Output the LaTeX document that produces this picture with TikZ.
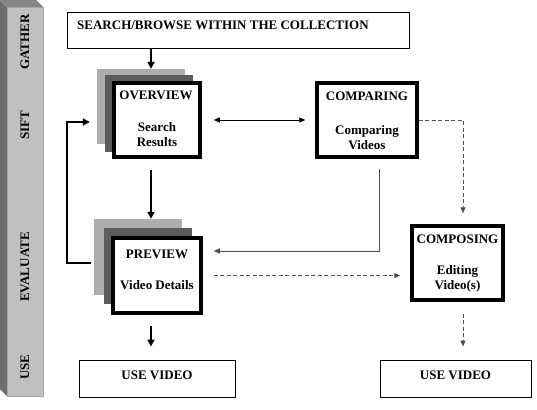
\documentclass[tikz,border=0pt]{standalone}
\usepackage{fontspec}
\setmainfont{Liberation Serif}
\usetikzlibrary{arrows.meta}
\definecolor{shlight}{HTML}{ADADAD}
\definecolor{shdark}{HTML}{5C5C5C}
\definecolor{barface}{HTML}{C0C0C0}
\definecolor{barside}{HTML}{6E6E6E}
\definecolor{bartop}{HTML}{858585}
\definecolor{lngray}{HTML}{505050}
\begin{document}
\begin{tikzpicture}[x=1pt,y=-1pt,
  txt/.style={font=\fontsize{13}{15}\selectfont\bfseries, inner sep=0, anchor=base},
  sidetxt/.style={font=\fontsize{13}{15}\selectfont\bfseries, inner sep=0, rotate=90},
  bigbox/.style={draw, line width=3.5pt, fill=white, inner sep=0},
  plainbox/.style={draw, line width=0.9pt, fill=white, inner sep=0},
  backsh/.style={fill=shlight, inner sep=0},
  midsh/.style={fill=shdark, inner sep=0},
  arr/.style={-{Triangle[length=7pt,width=7pt]}, line width=2pt},
  loopln/.style={line width=2pt},
  thinarr/.style={line width=0.9pt, -{Triangle[length=6pt,width=5pt]}},
  thinboth/.style={line width=0.9pt, {Triangle[length=6pt,width=5pt]}-{Triangle[length=6pt,width=5pt]}},
  dasharr/.style={draw=lngray, line width=0.9pt, dash pattern=on 4pt off 2.5pt, -{Triangle[length=6pt,width=5pt]}, lngray}
]
\useasboundingbox (0,0) rectangle (537,409);

% side bar
\fill[barside] (0,0) -- (7,7) -- (7,396) -- (0,389) -- cycle;
\fill[bartop] (0,0) -- (36,0) -- (43,7) -- (7,7) -- cycle;
\draw[fill=barface, draw=gray!70] (7,7) rectangle (43,396);
\node[sidetxt] (lgather) at (25,42) {GATHER};
\node[sidetxt] (lsift) at (25,125) {SIFT};
\node[sidetxt] (leval) at (25,267) {EVALUATE};
\node[sidetxt] (luse) at (25,367) {USE};

% top box
\node[plainbox, minimum width=342pt, minimum height=36pt] (top) at (238,30) {};
\node[txt, anchor=base west] (toptxt) at (77,29.5) {SEARCH/BROWSE WITHIN THE COLLECTION};

% overview stack
\node[backsh, minimum width=88pt, minimum height=75pt] (ovb) at (141,106.5) {};
\node[midsh, minimum width=88pt, minimum height=77pt] (ovm) at (149,113.5) {};
\node[bigbox, minimum width=86pt, minimum height=74pt] (ov) at (157,120) {};
\node[txt] (ovt) at (156,99.5) {OVERVIEW};
\node[txt] (ov1) at (157,131) {Search};
\node[txt] (ov2) at (157,146) {Results};

% preview stack
\node[backsh, minimum width=88pt, minimum height=76pt] (pvb) at (138,257) {};
\node[midsh, minimum width=88pt, minimum height=76pt] (pvm) at (148,266) {};
\node[bigbox, minimum width=88pt, minimum height=75pt] (pv) at (157,275.5) {};
\node[txt] (pvt) at (157,258) {PREVIEW};
\node[txt] (pv1) at (157,289.5) {Video Details};

% comparing
\node[bigbox, minimum width=100pt, minimum height=74pt] (cmp) at (367,120) {};
\node[txt] (cmpt) at (367,100) {COMPARING};
\node[txt] (cmp1) at (367,134) {Comparing};
\node[txt] (cmp2) at (367,149) {Videos};

% composing
\node[bigbox, minimum width=91pt, minimum height=74pt] (cps) at (457.5,263) {};
\node[txt] (cpst) at (457.5,243) {COMPOSING};
\node[txt] (cps1) at (457.5,274.5) {Editing};
\node[txt] (cps2) at (457.5,289.5) {Video(s)};

% use video boxes
\node[plainbox, minimum width=156pt, minimum height=37pt] (use1) at (157,378.5) {};
\node[txt] (use1t) at (157,379) {USE VIDEO};
\node[plainbox, minimum width=151pt, minimum height=37pt] (use2) at (455.5,378.5) {};
\node[txt] (use2t) at (455.5,379) {USE VIDEO};

% connectors
\draw[arr] ([xshift=-6pt]ov.north |- top.south) -- ([xshift=-6pt]ov.north |- ovb.north);
\draw[arr, shorten <=11pt] ([xshift=-6pt]ov.south) -- ([xshift=-6pt]pv.north |- pvb.north);
\draw[arr, shorten <=11pt, shorten >=13pt] ([xshift=-6pt]pv.south) -- ([xshift=-6pt]pv.south |- use1.north);
\draw[loopln, -{Triangle[length=7pt,width=7pt]}, shorten <=3pt, shorten >=7pt]
  ([yshift=-6pt]pvb.west) -- ++(-27,0) |- ([yshift=-15.5pt]ovb.west);
\draw[thinboth, shorten <=12pt, shorten >=10pt] (ov.east) -- (cmp.west);
\draw[dasharr, shorten >=11pt] (cmp.east) -| ([xshift=5.5pt]cps.north);
\draw[thinarr, draw=lngray, shorten >=11pt] ([xshift=12pt, yshift=-10pt]cmp.south) |- ([yshift=24.5pt]pv.east);
\draw[dasharr, shorten <=11pt, shorten >=10pt] (pv.east) -- (pv.east -| cps.west);
\draw[dasharr, shorten <=12pt, shorten >=13pt] ([xshift=5.5pt]cps.south) -- ([xshift=5.5pt]cps.south |- use2.north);
\end{tikzpicture}
\end{document}
